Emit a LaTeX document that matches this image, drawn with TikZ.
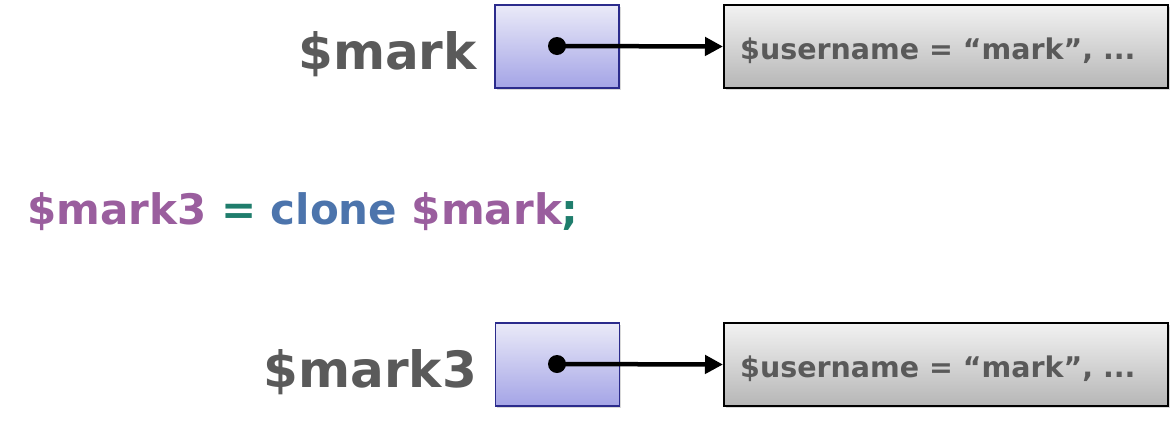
\documentclass[tikz,border=0pt]{standalone}
\usepackage{fontspec}
\setmainfont{DejaVu Sans}
\usetikzlibrary{arrows.meta,shadows}
\definecolor{txtgray}{HTML}{5A5A5A}
\definecolor{cpurple}{HTML}{9A5E9E}
\definecolor{cgreen}{HTML}{1F7D6C}
\definecolor{cblue}{HTML}{4C74AC}
\definecolor{navy}{HTML}{2B2B8C}
\definecolor{boxtop}{HTML}{EAEAF8}
\definecolor{boxbot}{HTML}{A4A4E6}
\definecolor{graytop}{HTML}{F2F2F2}
\definecolor{graybot}{HTML}{B6B6B6}
\tikzset{
  refbox/.style={draw=navy, line width=1.5pt, top color=boxtop, bottom color=boxbot,
    minimum width=124pt, minimum height=83pt, inner sep=0pt,
    drop shadow={shadow xshift=1.5pt, shadow yshift=-1.5pt, opacity=0.3}},
  objbox/.style={draw=black, line width=2pt, top color=graytop, bottom color=graybot,
    minimum width=444pt, minimum height=83pt, inner sep=0pt,
    drop shadow={shadow xshift=1.5pt, shadow yshift=-1.5pt, opacity=0.3}},
  varlabel/.style={font=\fontsize{50}{54}\selectfont\bfseries, text=txtgray, inner sep=0pt, anchor=base east},
  objtext/.style={font=\fontsize{28.5}{32}\selectfont\bfseries, text=txtgray, inner sep=0pt, anchor=base west},
  ptr/.style={line width=4.5pt, -{Triangle[length=18pt,width=18pt]}},
  dot/.style={circle, fill=black, minimum size=18pt, inner sep=0pt}
}
\begin{document}
\begin{tikzpicture}[x=1pt,y=-1pt]
\useasboundingbox (0,0) rectangle (1176,429);
% top row
\node[refbox] (r1) at (557,46.5) {};
\node[objbox] (o1) at (946,46.5) {};
\node[varlabel] (l1) at (477,69) {\$mark};
\node[objtext] (t1) at (740,59) {\$username = “mark”, ...};
\node[dot] (d1) at (557,46) {};
\draw[ptr] (d1.center) -- (o1.west);
% middle
\node[font=\fontsize{42}{46}\selectfont\bfseries, inner sep=0pt, anchor=base west] (code) at (27,224)
  {\textcolor{cpurple}{\$mark3} \textcolor{cgreen}{=} \textcolor{cblue}{clone} \textcolor{cpurple}{\$mark}\textcolor{cgreen}{;}};
% bottom row
\node[refbox] (r2) at (557.5,364.5) {};
\node[objbox] (o2) at (946,364.5) {};
\node[varlabel] (l2) at (477,387) {\$mark3};
\node[objtext] (t2) at (740,377) {\$username = “mark”, ...};
\node[dot] (d2) at (557,364) {};
\draw[ptr] (d2.center) -- (o2.west);
\end{tikzpicture}
\end{document}
